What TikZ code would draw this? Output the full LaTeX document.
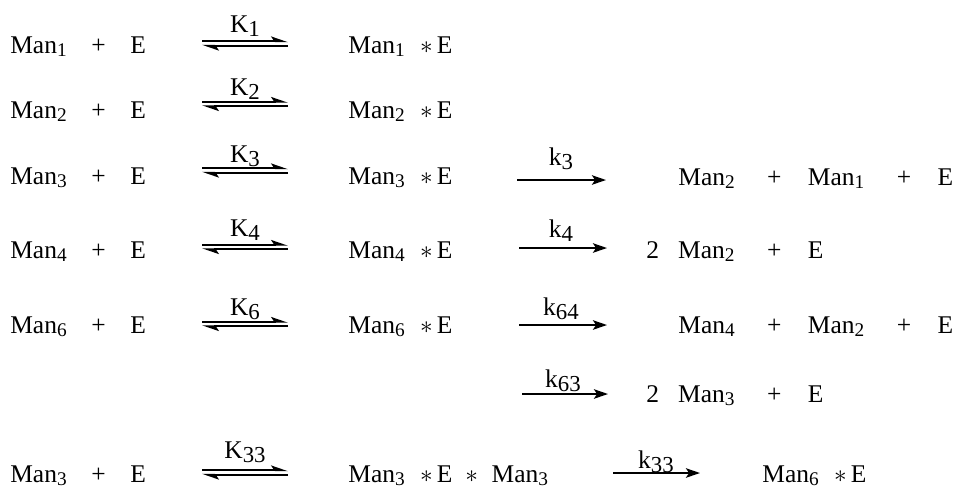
\documentclass[tikz,border=0pt]{standalone}
\usepackage{fontspec}
\setmainfont{Liberation Serif}
\usepackage{tikz}
\usetikzlibrary{arrows.meta}

\newcommand{\msub}[1]{\raisebox{-1.9pt}{\fontsize{11}{12}\selectfont #1}}
\newcommand{\ksub}[1]{\raisebox{-2.8pt}{\fontsize{13}{14}\selectfont #1}}
\newcommand{\pl}{\hspace{14pt}+\hspace{14pt}}
\newcommand{\pr}{\hspace{18.5pt}+\hspace{15pt}}
\newcommand{\cx}{\hspace{8.8pt}$\ast$\hspace{2.3pt}}
\newcommand{\eqarrow}[2]{%
  \draw[half] ([yshift=1.3pt]#1) -- ([yshift=1.3pt]#2);
  \draw[half] ([yshift=-1.3pt]#2) -- ([yshift=-1.3pt]#1);}

\begin{document}
\begin{tikzpicture}[x=0.02cm, y=-0.02cm, >=Stealth,
    font=\fontsize{14.5}{17}\selectfont,
    spec/.style={anchor=base west, inner sep=0pt},
    rate/.style={anchor=base, inner sep=0pt},
    fwd/.style={line width=1.1pt, -{Stealth[length=8pt, width=5.4pt, inset=1.8pt]}},
    half/.style={line width=1.1pt, -{Stealth[harpoon, length=8pt, width=5.4pt, inset=1.8pt]}}]
  \useasboundingbox (0,0) rectangle (957,488);

  % row 1
  \node[spec] (l1) at (10,53) {Man\msub{1}\pl E};
  \node[spec] (c1) at (348,53) {Man\msub{1}\cx E};
  \coordinate (e1a) at (202,43.5); \coordinate (e1b) at (288,43.5);
  \eqarrow{e1a}{e1b}
  \node[rate] (K1) at (245,32) {K\ksub{1}};

  % row 2
  \node[spec] (l2) at (10,118.5) {Man\msub{2}\pl E};
  \node[spec] (c2) at (348,118.5) {Man\msub{2}\cx E};
  \coordinate (e2a) at (202,104); \coordinate (e2b) at (288,104);
  \eqarrow{e2a}{e2b}
  \node[rate] (K2) at (245,95) {K\ksub{2}};

  % row 3
  \node[spec] (l3) at (10,184.5) {Man\msub{3}\pl E};
  \node[spec] (c3) at (348,184.5) {Man\msub{3}\cx E};
  \coordinate (e3a) at (202,170.5); \coordinate (e3b) at (288,170.5);
  \eqarrow{e3a}{e3b}
  \node[rate] (K3) at (245,162) {K\ksub{3}};
  \coordinate (f3a) at (517,180); \coordinate (f3b) at (606,180);
  \draw[fwd] (f3a) -- (f3b);
  \node[rate] (k3) at (561,165) {k\ksub{3}};
  \node[spec] (p3) at (678,185) {Man\msub{2}\pr Man\msub{1}\pr E};

  % row 4
  \node[spec] (l4) at (10,258.5) {Man\msub{4}\pl E};
  \node[spec] (c4) at (348,258.5) {Man\msub{4}\cx E};
  \coordinate (e4a) at (202,247); \coordinate (e4b) at (288,247);
  \eqarrow{e4a}{e4b}
  \node[rate] (K4) at (245,236) {K\ksub{4}};
  \coordinate (f4a) at (519,248); \coordinate (f4b) at (607,248);
  \draw[fwd] (f4a) -- (f4b);
  \node[rate] (k4) at (561,237) {k\ksub{4}};
  \node[spec] (p4) at (646,258) {2\hspace{10.9pt}Man\msub{2}\pr E};

  % row 5
  \node[spec] (l5) at (10,333) {Man\msub{6}\pl E};
  \node[spec] (c5) at (348,333) {Man\msub{6}\cx E};
  \coordinate (e5a) at (202,324); \coordinate (e5b) at (288,324);
  \eqarrow{e5a}{e5b}
  \node[rate] (K6) at (245,315) {K\ksub{6}};
  \coordinate (f5a) at (519,325); \coordinate (f5b) at (607,325);
  \draw[fwd] (f5a) -- (f5b);
  \node[rate] (k64) at (561,315) {k\ksub{64}};
  \node[spec] (p5) at (678,333) {Man\msub{4}\pr Man\msub{2}\pr E};

  % row 6
  \coordinate (f6a) at (522,394); \coordinate (f6b) at (608,394);
  \draw[fwd] (f6a) -- (f6b);
  \node[rate] (k63) at (563,387) {k\ksub{63}};
  \node[spec] (p6) at (646,402) {2\hspace{10.9pt}Man\msub{3}\pr E};

  % row 7
  \node[spec] (l7) at (10,482) {Man\msub{3}\pl E};
  \node[spec] (c7) at (348,482) {Man\msub{3}\cx E\hspace{7.4pt}$\ast$\hspace{7.7pt}Man\msub{3}};
  \coordinate (e7a) at (202,472.5); \coordinate (e7b) at (288,472.5);
  \eqarrow{e7a}{e7b}
  \node[rate] (K33) at (245,458) {K\ksub{33}};
  \coordinate (f7a) at (613,473); \coordinate (f7b) at (700,473);
  \draw[fwd] (f7a) -- (f7b);
  \node[rate] (k33) at (656,468) {k\ksub{33}};
  \node[spec] (p7) at (762,482) {Man\msub{6}\cx E};
\end{tikzpicture}
\end{document}
